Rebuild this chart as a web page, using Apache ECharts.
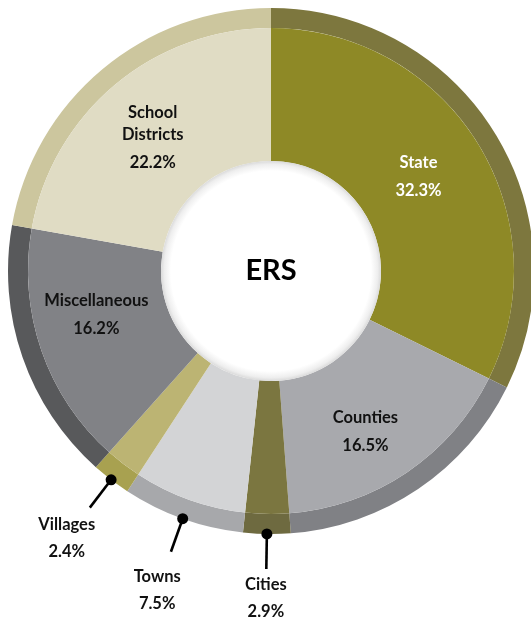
<!DOCTYPE html>
<html>
<head>
<meta charset="utf-8">
<script src="https://cdn.jsdelivr.net/npm/echarts@6/dist/echarts.min.js"></script>
<style>
  html, body { margin: 0; padding: 0; background: #fff; }
  #chart { width: 531px; height: 621px; }
</style>
</head>
<body>
<div id="chart"></div>
<script>
// Share of ERS membership by employer type (percent), clockwise from 12 o'clock
const categories = ['State', 'Counties', 'Cities', 'Towns', 'Villages', 'Miscellaneous', 'School Districts'];
const shares = [32.3, 16.5, 2.9, 7.5, 2.4, 16.2, 22.2];
const labelNames = ['State', 'Counties', 'Cities', 'Towns', 'Villages', 'Miscellaneous', 'School\nDistricts'];
const calloutCategories = ['Cities', 'Towns', 'Villages'];
const centerTitle = 'ERS';

const innerColors = ['#8E8926', '#A8A9AD', '#7B7640', '#D3D4D6', '#BCB473', '#818286', '#E0DCC4'];
const outerColors = ['#7D773E', '#808185', '#6E6A40', '#A7A8AB', '#A8A150', '#58595B', '#CCC69E'];

// ---- layout ----
const CX = 271, CY = 271;
const R_HOLE = 110, R_MAIN = 243, R_OUTER = 263;
const R_LINE_END = 298;
const FONT = 'Lato';
const FONT_SIZE = 16.5;
// fine placement of the in-ring labels (px)
const labelNudge = { 'State': [-5, 3], 'Counties': [-6, 15], 'Miscellaneous': [-5, -12], 'School Districts': [-3, 7] };
// distance of each callout text block from the centre
const calloutTextRadius = { 'Cities': 327, 'Towns': 339, 'Villages': 336 };

// midpoint of each slice on a 0..100 angular scale
const cumulative = [];
shares.reduce((acc, v, i) => { cumulative[i] = acc + v / 2; return acc + v; }, 0);

const calloutIdx = calloutCategories.map(c => categories.indexOf(c));

const richStyles = (color, nameLH, valueLH) => ({
  n: { fontFamily: FONT, fontWeight: 'bold', fontSize: FONT_SIZE, color, lineHeight: nameLH, textBorderWidth: 0 },
  v: { fontFamily: FONT, fontWeight: 'bold', fontSize: FONT_SIZE, color, lineHeight: valueLH, textBorderWidth: 0 }
});

const mainData = categories.map((c, i) => ({
  name: c,
  value: shares[i],
  itemStyle: { color: innerColors[i] },
  label: {
    show: !calloutCategories.includes(c),
    offset: labelNudge[c] || [0, 0],
    rich: richStyles(i === 0 ? '#ffffff' : '#111111', 22, 34)
  }
}));

const outerData = categories.map((c, i) => ({
  name: c,
  value: shares[i],
  itemStyle: { color: outerColors[i] }
}));

const series = [
  {
    type: 'pie',
    silent: true,
    center: [CX, CY],
    radius: [R_MAIN, R_OUTER],
    startAngle: 90,
    clockwise: true,
    label: { show: false },
    labelLine: { show: false },
    data: outerData
  },
  {
    type: 'pie',
    silent: true,
    center: [CX, CY],
    radius: [R_HOLE, R_MAIN],
    startAngle: 90,
    clockwise: true,
    label: {
      position: 'inside',
      textBorderWidth: 0,
      formatter: (p) => '{n|' + labelNames[p.dataIndex] + '}\n{v|' + shares[p.dataIndex].toFixed(1) + '%}'
    },
    labelLine: { show: false },
    data: mainData
  },
  {
    // white hub with a soft rim
    type: 'pie',
    silent: true,
    center: [CX, CY],
    radius: [0, R_HOLE],
    label: {
      show: true,
      position: 'center',
      formatter: centerTitle,
      fontFamily: FONT,
      fontWeight: 'bold',
      fontSize: 29,
      color: '#000'
    },
    labelLine: { show: false },
    itemStyle: {
      color: {
        type: 'radial', x: 0.5, y: 0.5, r: 0.5,
        colorStops: [
          { offset: 0, color: '#ffffff' },
          { offset: 0.91, color: '#ffffff' },
          { offset: 0.97, color: '#eeeeee' },
          { offset: 1, color: '#dadada' }
        ]
      }
    },
    data: [{ name: centerTitle, value: 1 }]
  }
];

// callout leader lines for the small slices
calloutIdx.forEach((i) => {
  series.push({
    type: 'line',
    coordinateSystem: 'polar',
    silent: true,
    symbol: 'none',
    lineStyle: { color: '#000', width: 2.6, opacity: 1 },
    data: [[R_OUTER, cumulative[i]], [R_LINE_END, cumulative[i]]],
    z: 5
  });
});

// dots at the ring edge
series.push({
  type: 'scatter',
  coordinateSystem: 'polar',
  silent: true,
  symbol: 'circle',
  symbolSize: 11,
  itemStyle: { color: '#000', opacity: 1 },
  data: calloutIdx.map(i => [R_OUTER, cumulative[i]]),
  z: 6
});

// callout texts
series.push({
  type: 'scatter',
  coordinateSystem: 'polar',
  silent: true,
  symbolSize: 0,
  itemStyle: { color: '#000', opacity: 1 },
  label: {
    show: true,
    position: 'inside',
    color: '#111111',
    textBorderWidth: 0,
    formatter: (p) => {
      const i = calloutIdx[p.dataIndex];
      return '{n|' + labelNames[i] + '}\n{v|' + shares[i].toFixed(1) + '%}';
    },
    rich: richStyles('#111111', 27, 27)
  },
  data: calloutIdx.map(i => [calloutTextRadius[categories[i]], cumulative[i]]),
  z: 6
});

const chart = echarts.init(document.getElementById('chart'), null, { renderer: 'canvas' });
chart.setOption({
  animation: false,
  backgroundColor: '#ffffff',
  polar: { center: [CX, CY], radius: 400 },
  angleAxis: { type: 'value', min: 0, max: 100, startAngle: 90, clockwise: true, show: false },
  radiusAxis: { type: 'value', min: 0, max: 400, show: false },
  series
});
</script>
</body>
</html>
